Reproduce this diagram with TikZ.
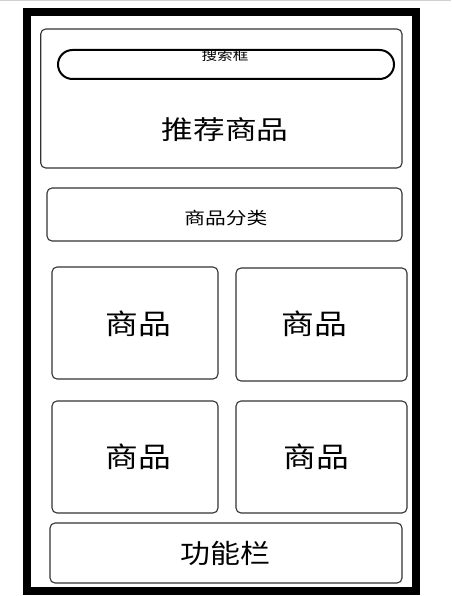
\documentclass[tikz,border=0pt]{standalone}
\usepackage{fontspec}
\setmainfont{Noto Sans CJK SC}
\newcommand{\mytxt}[3]{\scalebox{#1}[1]{\fontsize{#2}{#2}\selectfont #3}}
\tikzset{
  panel/.style={draw=black!80, line width=1.1pt, rounded corners=5pt, inner sep=0pt, outer sep=0pt},
  label/.style={anchor=base, inner sep=0pt, outer sep=0pt, text=black},
}
\begin{document}
\begin{tikzpicture}[x=1pt,y=-1pt]
\useasboundingbox (0,0) rectangle (451,596);
\fill[white] (0,0) rectangle (451,596);
% top gray rule
\draw[black!18, line width=1pt] (0,0.5) -- (451,0.5);
% right gray edge
\draw[black!35, line width=1pt] (419.5,9) -- (419.5,595);
% phone frame
\node[draw=black, line width=8pt, minimum width=388.5pt, minimum height=578.5pt, inner sep=0pt, outer sep=0pt] (frame) at (221.25,301.75) {};
% top box
\node[panel, minimum width=361.3pt, minimum height=139pt] (top) at (221.35,98.5) {};
% search box
\node[draw=black, line width=2pt, rounded corners=14.5pt, minimum width=336pt, minimum height=29pt, inner sep=0pt, outer sep=0pt] (search) at (226,64.5) {};
\begin{scope}
  \clip (58,51) rectangle (394,79);
  \node[label] (searchtxt) at (225,61) {\mytxt{1.2}{13}{搜索框}};
\end{scope}
\node[label] (rectxt) at (225.2,139.6) {\mytxt{1.22}{26}{推荐商品}};
% category
\node[panel, minimum width=355pt, minimum height=53pt] (cat) at (224.5,214.5) {};
\node[label] (cattxt) at (225.8,224.7) {\mytxt{1.22}{17}{商品分类}};
% products
\node[panel, minimum width=166pt, minimum height=112pt] (p1) at (135,323) {};
\node[panel, minimum width=171pt, minimum height=113pt] (p2) at (321.5,324.5) {};
\node[panel, minimum width=166pt, minimum height=112pt] (p3) at (135,457) {};
\node[panel, minimum width=171pt, minimum height=112pt] (p4) at (321.5,457) {};
\node[label] (p1txt) at (138,334) {\mytxt{1.17}{28}{商品}};
\node[label] (p2txt) at (314.7,334) {\mytxt{1.17}{28}{商品}};
\node[label] (p3txt) at (138,467.8) {\mytxt{1.17}{28}{商品}};
\node[label] (p4txt) at (316.7,467.8) {\mytxt{1.17}{28}{商品}};
% bottom bar
\node[panel, minimum width=352pt, minimum height=60pt] (bar) at (226,553) {};
\node[label] (bartxt) at (225.5,563.4) {\mytxt{1.13}{26.5}{功能栏}};
\end{tikzpicture}
\end{document}
